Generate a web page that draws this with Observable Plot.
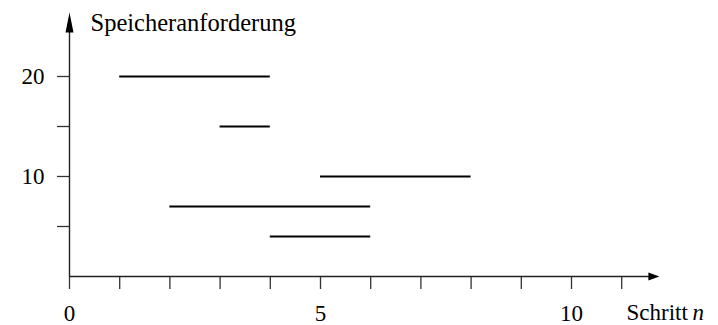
<!DOCTYPE html>
<html><head><meta charset="utf-8">
<script src="https://cdn.jsdelivr.net/npm/d3@7"></script>
<script src="https://cdn.jsdelivr.net/npm/@observablehq/plot@0.6"></script>
<style>body{margin:0;background:#fff}</style>
</head><body><div id="chart"></div>
<script>
// Speicheranforderungen: Start- und Endschritt, Größe
const starts = [1, 3, 5, 2, 4];
const ends   = [4, 4, 8, 6, 6];
const sizes  = [20, 15, 10, 7, 4];

const xTicks = [0, 1, 2, 3, 4, 5, 6, 7, 8, 9, 10, 11];
const xTickLabels = [0, 5, 10];
const yTicks = [5, 10, 15, 20];
const yTickLabels = [10, 20];
const xAxisEnd = [11.75];
const yAxisEnd = [26.4];
const yTitle = ["Speicheranforderung"];
const xTitle = ["Schritt"];
const xTitleVar = ["n"];

const requests = starts.map((s, i) => ({start: s, end: ends[i], size: sizes[i]}));

// arrowhead symbol with its tip at the anchor point, pointing up
const head = (len, wid) => ({
  draw(ctx) {
    ctx.moveTo(0, 0);
    ctx.lineTo(-wid / 2, len);
    ctx.lineTo(wid / 2, len);
    ctx.closePath();
  }
});

const chart = Plot.plot({
  width: 718,
  height: 325,
  marginLeft: 69,
  marginRight: 46.6,
  marginTop: 12,
  marginBottom: 49,
  x: {domain: [0, 12], label: null},
  y: {domain: [0, 26.4], label: null},
  style: {fontFamily: "'Liberation Serif', 'Times New Roman', serif", fontSize: "23px", color: "#000", background: "#fff"},
  marks: [
    Plot.axisX({ticks: xTicks, tickSize: 13, tickPadding: 15, stroke: "#333", strokeWidth: 1.3,
      tickFormat: d => xTickLabels.includes(d) ? String(d) : "", label: null}),
    Plot.axisY({ticks: yTicks, tickSize: 12, tickPadding: 13, stroke: "#333", strokeWidth: 1.3,
      tickFormat: d => yTickLabels.includes(d) ? String(d) : "", label: null}),
    Plot.ruleY([0], {x1: 0, x2: xAxisEnd[0] - 0.15, stroke: "#222", strokeWidth: 1.4}),
    Plot.ruleX([0], {y1: 0, y2: yAxisEnd[0] - 1.5, stroke: "#222", strokeWidth: 1.4}),
    Plot.dot(xAxisEnd, {x: d => d, y: 0, symbol: head(11, 8), r: 1, rotate: 90, fill: "#000", stroke: "none"}),
    Plot.dot(yAxisEnd, {x: 0, y: d => d, symbol: head(20, 8), r: 1, rotate: 0, fill: "#000", stroke: "none"}),
    Plot.ruleY(requests, {y: "size", x1: "start", x2: "end", stroke: "#000", strokeWidth: 2}),
    Plot.text(yTitle, {text: d => d, frameAnchor: "top-left", textAnchor: "start", lineAnchor: "middle", dx: 21, dy: 11, fill: "#000", fontSize: 24.5}),
    Plot.text(xTitle, {text: d => d, frameAnchor: "bottom-right", textAnchor: "start", lineAnchor: "middle", dx: -45.4, dy: 36.6, fill: "#000"}),
    Plot.text(xTitleVar, {text: d => d, frameAnchor: "bottom-right", textAnchor: "start", lineAnchor: "middle", dx: 20.6, dy: 36.6, fill: "#000", fontStyle: "italic"})
  ]
});
document.getElementById("chart").appendChild(chart);
</script>
</body></html>
